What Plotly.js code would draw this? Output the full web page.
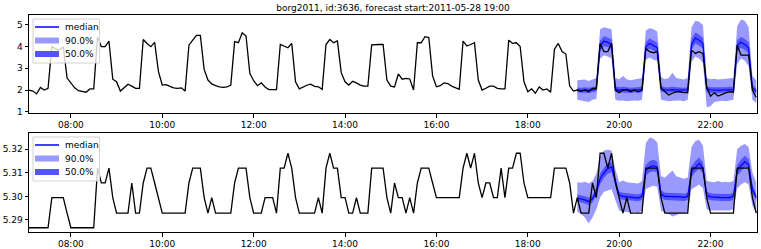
<!DOCTYPE html>
<html><head><meta charset="utf-8">
<script src="https://cdn.plot.ly/plotly-3.0.1.min.js"></script>
<style>html,body{margin:0;padding:0;background:#fff}#chart{width:761px;height:249px}</style>
</head><body><div id="chart"></div>
<script>
// ---- data ----
const dateStr = '2011-05-28';
const firstStepMinutes = 7 * 60 + 5;   // 07:05
const stepMinutes = 5;
const forecastStartIndex = 144;
const chartTitle = 'borg2011, id:3636, forecast start:2011-05-28 19:00';
const legendLabels = ['median', '90.0%', '50.0%'];

// panel 1 target (192 points)
const cpuTarget = [
 2.00,1.95,1.82,2.12,2.00,2.08, 4.00,3.90,3.85,4.00, 2.55,2.35,
 2.10,1.97,1.92,1.90,2.05,2.05, 4.45,4.00,4.00,4.25, 2.50,2.38,
 1.95,2.10,2.27,2.18,2.08,2.08, 4.33,4.15,4.00,4.20, 2.85,2.23,
 2.25,2.17,2.10,2.08,2.10,1.95, 4.07,4.30,4.52,4.52, 2.95,2.46,
 2.28,2.20,2.14,2.12,2.14,2.23, 4.23,4.18,4.64,4.49, 2.77,2.43,
 2.20,2.33,2.14,2.02,2.02,2.02, 4.10,4.03,3.95,4.15, 2.38,2.05,
 2.15,2.22,2.27,2.17,2.15,2.03, 4.10,4.33,4.18,4.27, 2.80,2.38,
 2.23,2.40,2.33,2.23,2.18,2.18, 4.08,4.10,4.10,4.10, 2.46,2.18,
 2.14,2.74,2.50,2.54,2.51,2.00, 4.18,4.18,4.46,4.42, 2.65,2.15,
 2.20,2.33,2.30,2.18,2.10,2.03, 4.26,4.03,4.10,4.18, 2.46,2.00,
 2.08,2.18,2.18,2.08,2.05,2.05, 4.30,4.15,4.18,4.00, 2.38,1.92,
 2.05,1.85,2.14,2.00,2.05,1.90, 3.88,4.15,3.77,3.66, 2.18,1.95,
 2.00,1.94,2.00,1.92,2.08,2.08, 4.15,3.77,3.77,4.15, 2.00,1.88,
 2.00,2.03,1.92,2.00,1.92,2.00, 3.92,3.77,3.72,3.77, 2.08,1.92,
 1.77,1.85,1.92,1.92,1.88,1.88, 3.84,3.69,3.77,3.69, 2.10,1.72,
 1.87,1.72,1.80,1.87,1.92,1.90, 4.07,3.61,3.61,3.61, 2.00,1.66
];
// panel 1 forecast quantiles (48 points)
const cpuMedian = [2.00,1.98,2.00,1.98,2.02,2.05, 4.05,4.25,4.20,4.10, 2.05,2.00,2.02,2.00,1.98,2.00,2.00,2.02, 4.00,4.15,4.05,3.95, 2.05,2.00,2.00,2.02,2.00,2.00,1.98,2.00, 4.10,4.40,4.30,4.15, 2.05,2.00,2.00,1.98,2.00,2.00,2.02,2.02, 4.05,4.20,4.10,3.95, 2.10,1.95];
const cpuQ25 = [1.88,1.87,1.88,1.86,1.90,1.93, 3.82,4.02,3.98,3.88, 1.92,1.88,1.89,1.87,1.86,1.88,1.87,1.90, 3.78,3.92,3.82,3.72, 1.92,1.88,1.87,1.89,1.88,1.87,1.86,1.88, 3.85,4.15,4.05,3.90, 1.90,1.86,1.87,1.85,1.87,1.88,1.89,1.90, 3.80,3.95,3.85,3.70, 1.95,1.82];
const cpuQ75 = [2.12,2.10,2.13,2.10,2.14,2.18, 4.28,4.48,4.42,4.33, 2.18,2.13,2.15,2.13,2.10,2.12,2.13,2.15, 4.22,4.38,4.28,4.18, 2.18,2.13,2.13,2.15,2.13,2.12,2.10,2.13, 4.35,4.65,4.55,4.40, 2.18,2.13,2.13,2.11,2.13,2.13,2.15,2.15, 4.30,4.45,4.35,4.20, 2.25,2.08];
const cpuQ05 = [1.55,1.52,1.50,1.45,1.55,1.58, 3.45,3.60,3.55,3.45, 1.55,1.50,1.52,1.48,1.50,1.52,1.50,1.55, 3.40,3.50,3.40,3.35, 1.55,1.52,1.48,1.50,1.50,1.52,1.48,1.55, 3.30,3.55,3.45,3.25, 1.20,1.25,1.45,1.48,1.50,1.48,1.52,1.55, 3.20,3.45,3.35,3.10, 1.55,1.40];
const cpuQ95 = [2.45,2.45,2.48,2.42,2.50,2.55, 4.80,4.90,4.85,4.80, 2.55,2.50,2.65,2.50,2.45,2.48,2.50,2.55, 4.75,4.85,4.80,4.70, 2.60,2.50,2.55,2.80,2.55,2.50,2.48,2.55, 4.90,5.20,5.15,5.00, 2.55,2.50,2.52,2.48,2.50,2.50,2.52,2.55, 4.95,5.25,5.20,4.90, 2.65,2.45];

// panel 2 target (192 points)
const memTarget = [
 5.2867,5.2867,5.2867,5.2867,5.2867,5.2867, 5.2995,5.2995,5.2995,5.2995, 5.2929,5.2867,   // 0
 5.2867,5.2867,5.2867,5.2867,5.2867,5.2867, 5.3120,5.3057,5.3057,5.3120, 5.2995,5.2929,   // 12
 5.2929,5.2929,5.2929,5.3057,5.2929,5.2929, 5.3057,5.3120,5.3120,5.3057, 5.2995,5.2929,   // 24
 5.2929,5.2929,5.2929,5.2929,5.2929,5.2929, 5.3057,5.3120,5.3120,5.3120, 5.2995,5.2929,   // 36
 5.2995,5.2929,5.2929,5.2929,5.2929,5.2929, 5.3057,5.3120,5.3120,5.3120, 5.2995,5.2929,   // 48
 5.2929,5.2929,5.2995,5.2995,5.2995,5.2929, 5.3120,5.3120,5.3183,5.3120, 5.2995,5.2929,   // 60
 5.2929,5.2929,5.2929,5.2929,5.2995,5.2929, 5.3120,5.3183,5.3120,5.3120, 5.2995,5.2995,   // 72
 5.2929,5.2929,5.2995,5.2929,5.2929,5.2929, 5.3120,5.3120,5.3120,5.3120, 5.2995,5.2929,   // 84
 5.3057,5.2995,5.2995,5.2929,5.2995,5.2929, 5.3057,5.3120,5.3120,5.3120, 5.3057,5.2995,   // 96
 5.2995,5.2995,5.2995,5.2995,5.2995,5.2995, 5.3120,5.3183,5.3120,5.3183, 5.3057,5.2995,   // 108
 5.3057,5.3057,5.2995,5.2995,5.3120,5.2995, 5.3120,5.3120,5.3183,5.3183, 5.3057,5.2995,   // 120
 5.2995,5.2995,5.2995,5.2995,5.2995,5.2995, 5.3120,5.3120,5.3120,5.3120, 5.3057,5.2929,   // 132
 5.2995,5.2929,5.2929,5.2929,5.3057,5.2995, 5.3183,5.3183,5.3120,5.3183, 5.3057,5.2995,   // 144
 5.2929,5.2995,5.2929,5.2929,5.2929,5.2929, 5.3120,5.3120,5.3120,5.3120, 5.2995,5.2929,   // 156
 5.2929,5.2929,5.2929,5.2929,5.2929,5.2929, 5.3120,5.3120,5.3120,5.3120, 5.2995,5.2929,   // 168
 5.2929,5.2929,5.2929,5.2929,5.2929,5.2929, 5.3120,5.3120,5.3120,5.3120, 5.2995,5.2929    // 180
];
// panel 2 forecast quantiles (48 points)
const memMedian = [5.2993,5.2990,5.2985,5.2978,5.2990,5.3020, 5.3075,5.3100,5.3118,5.3125, 5.3060,5.3005,5.3000,5.2998,5.2996,5.2995,5.2993,5.3000, 5.3110,5.3125,5.3130,5.3125, 5.3010,5.3000,5.3000,5.3000,5.2998,5.2998,5.2996,5.3000, 5.3105,5.3125,5.3140,5.3120, 5.3005,5.2998,5.2996,5.2996,5.2995,5.2995,5.2995,5.3000, 5.3110,5.3130,5.3148,5.3135, 5.3030,5.2995];
const memQ25 = [5.2978,5.2975,5.2970,5.2962,5.2975,5.3003, 5.3052,5.3078,5.3096,5.3103, 5.3043,5.2990,5.2986,5.2984,5.2982,5.2980,5.2979,5.2985, 5.3088,5.3102,5.3107,5.3102, 5.2994,5.2985,5.2984,5.2985,5.2983,5.2983,5.2981,5.2985, 5.3083,5.3102,5.3117,5.3097, 5.2990,5.2984,5.2982,5.2982,5.2981,5.2981,5.2981,5.2985, 5.3088,5.3107,5.3125,5.3112, 5.3012,5.2980];
const memQ75 = [5.3008,5.3005,5.3001,5.2995,5.3006,5.3038, 5.3097,5.3122,5.3140,5.3147, 5.3078,5.3020,5.3015,5.3013,5.3011,5.3010,5.3008,5.3015, 5.3133,5.3150,5.3155,5.3148, 5.3026,5.3016,5.3016,5.3016,5.3013,5.3013,5.3011,5.3015, 5.3128,5.3150,5.3165,5.3143, 5.3020,5.3013,5.3011,5.3011,5.3010,5.3010,5.3010,5.3015, 5.3133,5.3155,5.3172,5.3158, 5.3048,5.3010];
const memQ05 = [5.2935,5.2925,5.2910,5.2885,5.2910,5.2945, 5.2995,5.3020,5.3025,5.3030, 5.2985,5.2940,5.2935,5.2935,5.2930,5.2935,5.2930,5.2940, 5.3030,5.3040,5.3045,5.3040, 5.2940,5.2930,5.2925,5.2915,5.2920,5.2930,5.2928,5.2935, 5.3030,5.3040,5.3050,5.3035, 5.2945,5.2940,5.2940,5.2942,5.2940,5.2942,5.2940,5.2945, 5.3035,5.3050,5.3060,5.3050, 5.2960,5.2930];
const memQ95 = [5.3060,5.3058,5.3062,5.3055,5.3065,5.3095, 5.3170,5.3195,5.3198,5.3195, 5.3115,5.3060,5.3068,5.3060,5.3058,5.3058,5.3055,5.3065, 5.3225,5.3250,5.3245,5.3230, 5.3085,5.3080,5.3095,5.3110,5.3085,5.3080,5.3075,5.3080, 5.3210,5.3235,5.3240,5.3215, 5.3065,5.3062,5.3060,5.3065,5.3060,5.3062,5.3060,5.3065, 5.3200,5.3215,5.3222,5.3210, 5.3100,5.3060];

// ---- build ----
function pad(n){ return (n < 10 ? '0' : '') + n; }
function stamp(i){ const m = firstStepMinutes + stepMinutes * i; return dateStr + ' ' + pad(Math.floor(m / 60)) + ':' + pad(m % 60); }
const xAll = cpuTarget.map((_, i) => stamp(i));
const xFc = cpuMedian.map((_, i) => stamp(forecastStartIndex + i));

const C90 = 'rgba(0,0,255,0.40)';
const C50 = 'rgba(0,0,255,0.45)';
const C50legend = 'rgb(84,84,255)';
const C90legend = 'rgb(153,153,255)';

function band(lo, hi, color, xa, ya){
  return [
    {x: xFc, y: lo, xaxis: xa, yaxis: ya, mode: 'lines', line: {width: 0, color: color}, showlegend: false, hoverinfo: 'skip'},
    {x: xFc, y: hi, xaxis: xa, yaxis: ya, mode: 'lines', line: {width: 0, color: color}, fill: 'tonexty', fillcolor: color, showlegend: false, hoverinfo: 'skip'}
  ];
}
function panel(target, q05, q25, med, q75, q95, xa, ya){
  return [].concat(
    band(q05, q95, C90, xa, ya),
    band(q25, q75, C50, xa, ya),
    [{x: xFc, y: med, xaxis: xa, yaxis: ya, mode: 'lines', line: {color: 'rgb(0,0,255)', width: 1.2}, showlegend: false}],
    [{x: xAll, y: target, xaxis: xa, yaxis: ya, mode: 'lines', line: {color: 'black', width: 1.3}, showlegend: false}]
  );
}
const data = [].concat(
  panel(cpuTarget, cpuQ05, cpuQ25, cpuMedian, cpuQ75, cpuQ95, 'x', 'y'),
  panel(memTarget, memQ05, memQ25, memMedian, memQ75, memQ95, 'x2', 'y2')
);

// pixel helpers for legend placement (plot area 29..757 x, 15..232 y)
const PL = 29, PR = 757, PT = 15, PB = 232;
const xp = px => (px - PL) / (PR - PL);
const yp = py => (PB - py) / (PB - PT);
const shapes = [], annotations = [];
function legendBox(top){
  shapes.push({type: 'rect', xref: 'paper', yref: 'paper', x0: xp(33), x1: xp(99.5), y0: yp(top), y1: yp(top + 44),
    line: {color: 'rgb(210,210,210)', width: 1}, fillcolor: 'rgba(255,255,255,0.8)', layer: 'above'});
  shapes.push({type: 'line', xref: 'paper', yref: 'paper', x0: xp(35), x1: xp(59), y0: yp(top + 8), y1: yp(top + 8),
    line: {color: 'rgb(0,0,255)', width: 1.5}, layer: 'above'});
  shapes.push({type: 'rect', xref: 'paper', yref: 'paper', x0: xp(35), x1: xp(59), y0: yp(top + 18.5), y1: yp(top + 24.5),
    line: {width: 0}, fillcolor: C90legend, layer: 'above'});
  shapes.push({type: 'rect', xref: 'paper', yref: 'paper', x0: xp(35), x1: xp(59), y0: yp(top + 32), y1: yp(top + 38),
    line: {width: 0}, fillcolor: C50legend, layer: 'above'});
  [8, 21.5, 35].forEach((dy, k) => annotations.push({xref: 'paper', yref: 'paper', x: xp(63), y: yp(top + dy),
    xanchor: 'left', yanchor: 'middle', text: legendLabels[k], showarrow: false, font: {size: 9, color: 'black'}}));
}
legendBox(19);
legendBox(137);

const xCommon = {
  type: 'date', range: [stamp(0), dateStr + ' 23:01'], tickformat: '%H:%M', dtick: 7200000, tick0: dateStr + ' 08:00',
  ticks: 'outside', ticklen: 3.5, tickwidth: 1, tickcolor: 'black', showline: true, mirror: true, linecolor: 'black', linewidth: 1,
  showgrid: false, zeroline: false, tickfont: {size: 9, color: 'black'}
};
const yCommon = {
  ticks: 'outside', ticklen: 3.5, tickwidth: 1, tickcolor: 'black', showline: true, mirror: true, linecolor: 'black', linewidth: 1,
  showgrid: false, zeroline: false, tickfont: {size: 9, color: 'black'}
};
const layout = {
  width: 761, height: 249, margin: {l: PL, r: 761 - PR, t: PT, b: 249 - PB},
  paper_bgcolor: 'white', plot_bgcolor: 'white',
  font: {family: 'DejaVu Sans, sans-serif', size: 9, color: 'black'},
  title: {text: chartTitle, font: {size: 9, color: 'black'}, x: 0.5, xref: 'paper', y: 1 - 7.5 / 249, yanchor: 'middle'},
  showlegend: false,
  xaxis: Object.assign({}, xCommon, {anchor: 'y', domain: [0, 1]}),
  xaxis2: Object.assign({}, xCommon, {anchor: 'y2', domain: [0, 1]}),
  yaxis: Object.assign({}, yCommon, {domain: [yp(113), 1], range: [0.94, 5.46], dtick: 1, tick0: 0}),
  yaxis2: Object.assign({}, yCommon, {domain: [0, yp(133)], range: [5.2849, 5.3269], dtick: 0.01, tick0: 5.29, tickformat: '.2f'}),
  shapes: shapes, annotations: annotations
};
Plotly.newPlot('chart', data, layout, {staticPlot: true, displayModeBar: false});
</script></body></html>
